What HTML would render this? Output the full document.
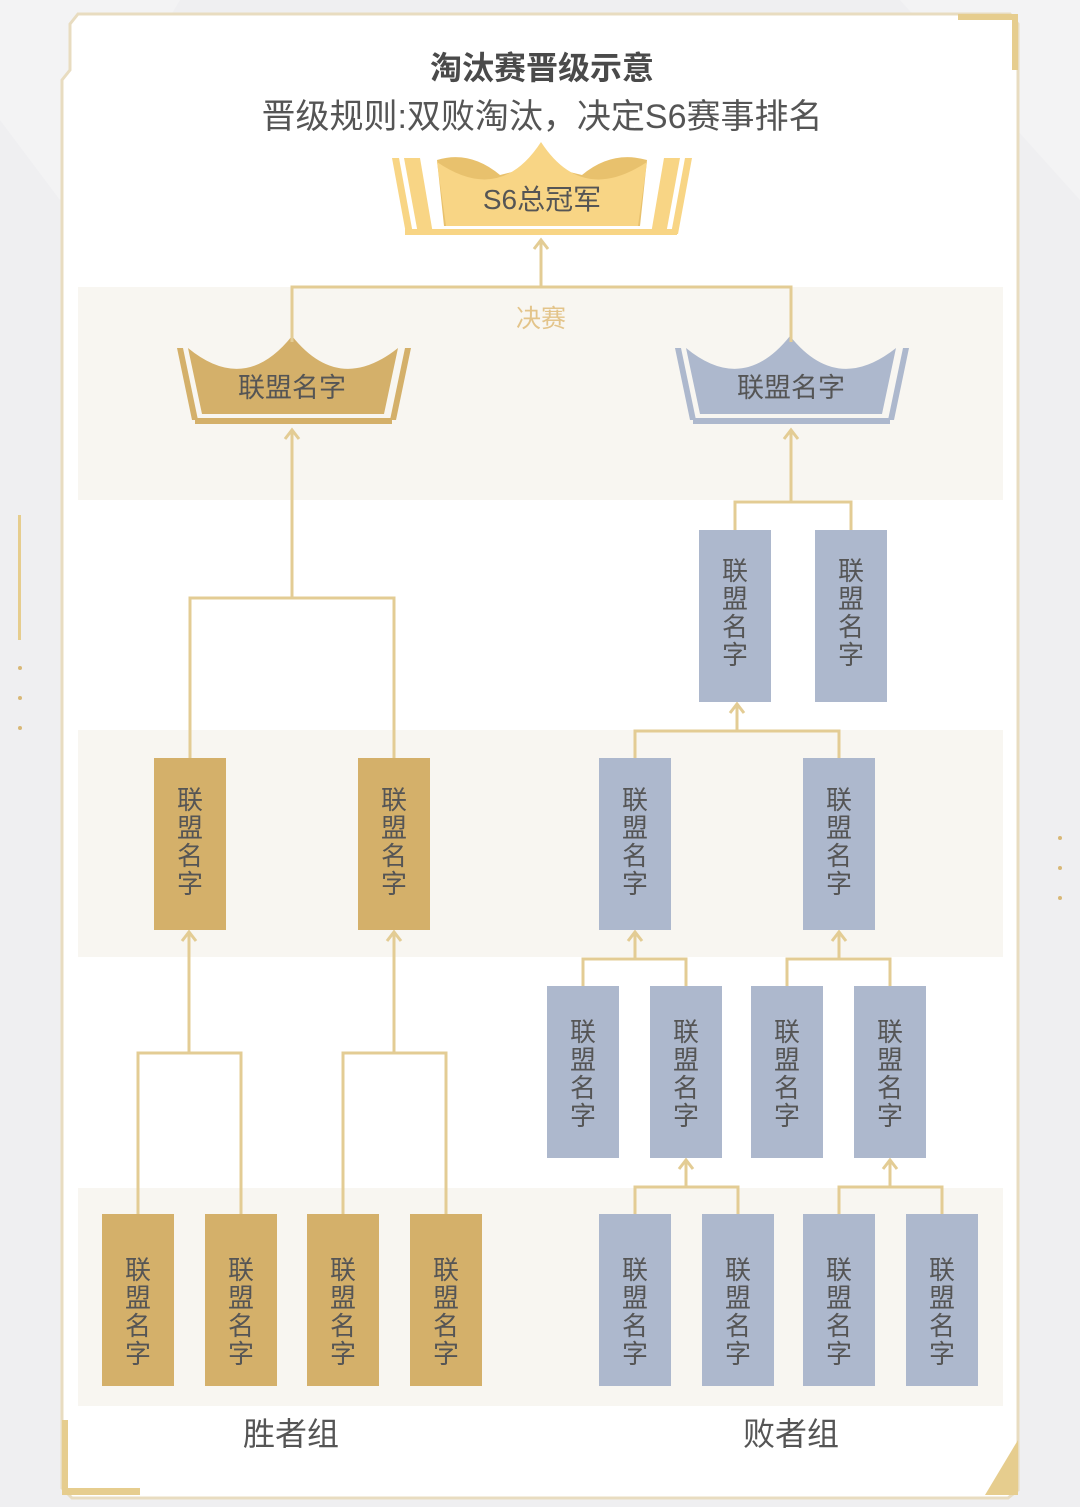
<!DOCTYPE html>
<html><head><meta charset="utf-8"><style>
html,body{margin:0;padding:0;background:#efeff1;}
svg{display:block;}
text{font-family:"Liberation Sans","Noto Sans CJK SC",sans-serif;}
</style></head><body>
<svg width="1080" height="1507" viewBox="0 0 1080 1507" xmlns="http://www.w3.org/2000/svg">
<defs>
<g id="ar"><path d="M-7,9 L0,0 L7,9" fill="none" stroke="#e3cc94" stroke-width="3"/></g>
</defs>
<rect width="1080" height="1507" fill="#efeff1"/>
<polygon points="0,0 180,0 60,200 0,120" fill="#f3f3f4"/>
<polygon points="900,0 1080,0 1080,200" fill="#f3f3f4"/>
<path d="M78,14 L1010,14 L1018,24 L1018,1490 L1008,1498 L72,1498 L62,1488 L62,80 L70,70 L70,24 Z" fill="#fff" stroke="#e8dcc0" stroke-width="3"/>
<path d="M958,14 L1018,14 L1018,70 L1012,70 L1012,20 L958,20Z" fill="#e6cd8e"/>
<path d="M62,1420 L68,1420 L68,1488 L140,1488 L140,1495 L62,1495Z" fill="#e6cd8e"/>
<polygon points="1018,1440 1018,1495 985,1495" fill="#e6cd8e"/>
<rect x="18" y="515" width="3" height="125" fill="#e6cd8e"/>
<circle cx="20" cy="668" r="2" fill="#d8b878"/><circle cx="20" cy="698" r="2" fill="#d8b878"/><circle cx="20" cy="728" r="2" fill="#d8b878"/>
<circle cx="1060" cy="838" r="2" fill="#d8b878"/><circle cx="1060" cy="868" r="2" fill="#d8b878"/><circle cx="1060" cy="898" r="2" fill="#d8b878"/>
<rect x="78" y="287" width="925" height="213" fill="#f8f6f1"/>
<rect x="78" y="730" width="925" height="227" fill="#f8f6f1"/>
<rect x="78" y="1188" width="925" height="218" fill="#f8f6f1"/>
<text x="542" y="79" text-anchor="middle" font-size="32" font-weight="bold" fill="#4a4a4a">淘汰赛晋级示意</text>
<text x="542" y="128" text-anchor="middle" font-size="34" fill="#555">晋级规则:双败淘汰，决定S6赛事排名</text>
<text x="541" y="327" text-anchor="middle" font-size="25" fill="#e3c48a">决赛</text>
<text x="291" y="1445" text-anchor="middle" font-size="32" fill="#555">胜者组</text>
<text x="791" y="1445" text-anchor="middle" font-size="32" fill="#555">败者组</text>
<g>
<polygon points="392,158 399,158 413,234 406,234" fill="#f8d585"/>
<polygon points="404,158 420,158 433,234 418,234" fill="#f8d585"/>
<polygon points="692,158 685,158 671,234 678,234" fill="#f8d585"/>
<polygon points="680,158 664,158 651,234 666,234" fill="#f8d585"/>
<path d="M437,160 Q470,150 500,175 L541,165 L582,175 Q612,150 647,160 L640,226 L444,226Z" fill="#e8c16d"/>
<path d="M437,162 Q500,205 541,142 Q582,205 647,162 L638,226 L446,226Z" fill="#f8d585"/>
<rect x="405" y="229" width="272" height="6" fill="#f8d585"/>
<text x="542" y="209" text-anchor="middle" font-size="28" fill="#555">S6总冠军</text>
</g>
<g fill="#d4b06a">
<polygon points="177,348 183,348 198,420 192,420"/>
<polygon points="411,348 405,348 390,420 396,420"/>
<path d="M188,348 Q245,395 292,336 Q339,395 398,348 L384,414 L202,414Z"/>
<rect x="195" y="418" width="197" height="6"/>
</g>
<text x="292" y="397" text-anchor="middle" font-size="27" fill="#555">联盟名字</text>
<g fill="#adb8cd">
<polygon points="675,348 681,348 696,420 690,420"/>
<polygon points="909,348 903,348 888,420 894,420"/>
<path d="M686,348 Q743,395 790,336 Q837,395 896,348 L882,414 L700,414Z"/>
<rect x="693" y="418" width="197" height="6"/>
</g>
<text x="791" y="397" text-anchor="middle" font-size="27" fill="#555">联盟名字</text>
<g fill="none" stroke="#e3cc94" stroke-width="3">
<path d="M292,342 V287 H791 V342 M541,287 V240"/>
<path d="M138,1214 V1053 H241 V1214 M189,1053 V932"/>
<path d="M343,1214 V1053 H446 V1214 M394,1053 V932"/>
<path d="M190,758 V598 H394 V758 M292,598 V430"/>
<path d="M635,1214 V1187 H738 V1214 M686,1187 V1160"/>
<path d="M839,1214 V1187 H942 V1214 M890,1187 V1160"/>
<path d="M583,986 V959 H686 V986 M635,959 V932"/>
<path d="M787,986 V959 H890 V986 M839,959 V932"/>
<path d="M635,758 V731 H839 V758 M737,731 V704"/>
<path d="M735,530 V502 H851 V530 M791,502 V430"/>
</g>
<use href="#ar" x="541" y="240"/>
<use href="#ar" x="292" y="430"/><use href="#ar" x="791" y="430"/>
<use href="#ar" x="189" y="932"/><use href="#ar" x="394" y="932"/>
<use href="#ar" x="686" y="1160"/><use href="#ar" x="890" y="1160"/>
<use href="#ar" x="635" y="932"/><use href="#ar" x="839" y="932"/>
<use href="#ar" x="737" y="704"/>
<g fill="#d4b06a">
<rect x="102" y="1214" width="72" height="172"/><rect x="205" y="1214" width="72" height="172"/>
<rect x="307" y="1214" width="72" height="172"/><rect x="410" y="1214" width="72" height="172"/>
<rect x="154" y="758" width="72" height="172"/><rect x="358" y="758" width="72" height="172"/>
</g>
<g fill="#adb8cd">
<rect x="599" y="1214" width="72" height="172"/><rect x="702" y="1214" width="72" height="172"/>
<rect x="803" y="1214" width="72" height="172"/><rect x="906" y="1214" width="72" height="172"/>
<rect x="547" y="986" width="72" height="172"/><rect x="650" y="986" width="72" height="172"/>
<rect x="751" y="986" width="72" height="172"/><rect x="854" y="986" width="72" height="172"/>
<rect x="599" y="758" width="72" height="172"/><rect x="803" y="758" width="72" height="172"/>
<rect x="699" y="530" width="72" height="172"/><rect x="815" y="530" width="72" height="172"/>
</g>
<g font-size="26" fill="#555" text-anchor="middle">
<text x="138" y="1279">联<tspan x="138" dy="28">盟</tspan><tspan x="138" dy="28">名</tspan><tspan x="138" dy="28">字</tspan></text>
<text x="241" y="1279">联<tspan x="241" dy="28">盟</tspan><tspan x="241" dy="28">名</tspan><tspan x="241" dy="28">字</tspan></text>
<text x="343" y="1279">联<tspan x="343" dy="28">盟</tspan><tspan x="343" dy="28">名</tspan><tspan x="343" dy="28">字</tspan></text>
<text x="446" y="1279">联<tspan x="446" dy="28">盟</tspan><tspan x="446" dy="28">名</tspan><tspan x="446" dy="28">字</tspan></text>
<text x="190" y="809">联<tspan x="190" dy="28">盟</tspan><tspan x="190" dy="28">名</tspan><tspan x="190" dy="28">字</tspan></text>
<text x="394" y="809">联<tspan x="394" dy="28">盟</tspan><tspan x="394" dy="28">名</tspan><tspan x="394" dy="28">字</tspan></text>
<text x="635" y="1279">联<tspan x="635" dy="28">盟</tspan><tspan x="635" dy="28">名</tspan><tspan x="635" dy="28">字</tspan></text>
<text x="738" y="1279">联<tspan x="738" dy="28">盟</tspan><tspan x="738" dy="28">名</tspan><tspan x="738" dy="28">字</tspan></text>
<text x="839" y="1279">联<tspan x="839" dy="28">盟</tspan><tspan x="839" dy="28">名</tspan><tspan x="839" dy="28">字</tspan></text>
<text x="942" y="1279">联<tspan x="942" dy="28">盟</tspan><tspan x="942" dy="28">名</tspan><tspan x="942" dy="28">字</tspan></text>
<text x="583" y="1041">联<tspan x="583" dy="28">盟</tspan><tspan x="583" dy="28">名</tspan><tspan x="583" dy="28">字</tspan></text>
<text x="686" y="1041">联<tspan x="686" dy="28">盟</tspan><tspan x="686" dy="28">名</tspan><tspan x="686" dy="28">字</tspan></text>
<text x="787" y="1041">联<tspan x="787" dy="28">盟</tspan><tspan x="787" dy="28">名</tspan><tspan x="787" dy="28">字</tspan></text>
<text x="890" y="1041">联<tspan x="890" dy="28">盟</tspan><tspan x="890" dy="28">名</tspan><tspan x="890" dy="28">字</tspan></text>
<text x="635" y="809">联<tspan x="635" dy="28">盟</tspan><tspan x="635" dy="28">名</tspan><tspan x="635" dy="28">字</tspan></text>
<text x="839" y="809">联<tspan x="839" dy="28">盟</tspan><tspan x="839" dy="28">名</tspan><tspan x="839" dy="28">字</tspan></text>
<text x="735" y="580">联<tspan x="735" dy="28">盟</tspan><tspan x="735" dy="28">名</tspan><tspan x="735" dy="28">字</tspan></text>
<text x="851" y="580">联<tspan x="851" dy="28">盟</tspan><tspan x="851" dy="28">名</tspan><tspan x="851" dy="28">字</tspan></text>
</g>
</svg>
</body></html>
